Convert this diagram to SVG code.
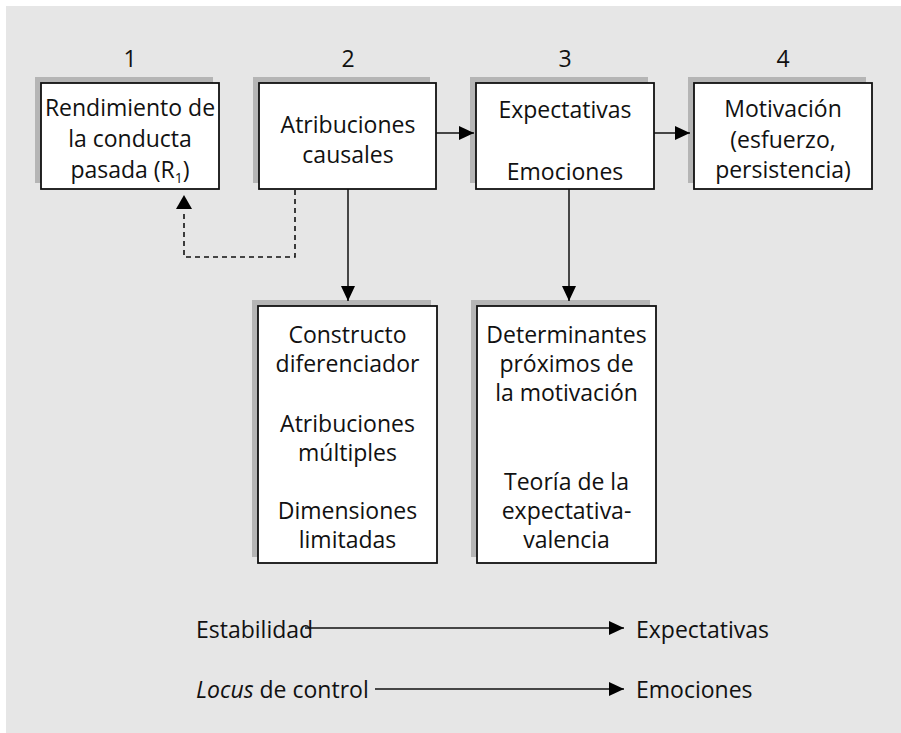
<svg xmlns="http://www.w3.org/2000/svg" width="901" height="733" viewBox="0 0 901 733">
<style>
text{font-family:"Open Sans","Noto Sans",sans-serif;font-size:23px;fill:#111;}
.c{text-anchor:middle;}
.box{fill:#fff;stroke:#111;stroke-width:1.8;}
.sh{fill:#b5b5b5;}
.ln{fill:none;stroke:#111;stroke-width:1.5;}
.dash{fill:none;stroke:#111;stroke-width:1.6;stroke-dasharray:5 4;}
</style>
<defs>
<marker id="ah" markerUnits="userSpaceOnUse" markerWidth="16" markerHeight="16" viewBox="0 0 16 16" refX="15" refY="8" orient="auto">
<path d="M0,1 L15,8 L0,15 Z" fill="#000"/>
</marker>
</defs>
<rect x="6" y="6" width="895" height="727" fill="#e6e6e6"/>
<g id="numbers">
<text class="c" x="130" y="67">1</text>
<text class="c" x="348" y="67">2</text>
<text class="c" x="565" y="67">3</text>
<text class="c" x="783" y="67">4</text>
</g>
<g id="node1">
<rect class="sh" x="35" y="77" width="178" height="106"/>
<rect class="box" x="41" y="83" width="178" height="106"/>
<text class="c" x="130" y="116">Rendimiento de</text>
<text class="c" x="130" y="147">la conducta</text>
<text class="c" x="130" y="178">pasada (R<tspan font-size="14" dy="5">1</tspan><tspan dy="-5">)</tspan></text>
</g>
<g id="node2">
<rect class="sh" x="253" y="77" width="177" height="106"/>
<rect class="box" x="259" y="83" width="177" height="106"/>
<text class="c" x="348" y="133">Atribuciones</text>
<text class="c" x="348" y="163">causales</text>
</g>
<g id="node3">
<rect class="sh" x="470" y="77" width="178" height="106"/>
<rect class="box" x="476" y="83" width="178" height="106"/>
<text class="c" x="565" y="118">Expectativas</text>
<text class="c" x="565" y="180">Emociones</text>
</g>
<g id="node4">
<rect class="sh" x="688" y="77" width="178" height="106"/>
<rect class="box" x="694" y="83" width="178" height="106"/>
<text class="c" x="783" y="117">Motivación</text>
<text class="c" x="783" y="148">(esfuerzo,</text>
<text class="c" x="783" y="178">persistencia)</text>
</g>
<g id="node5">
<rect class="sh" x="252" y="300" width="179" height="257"/>
<rect class="box" x="258" y="306" width="179" height="257"/>
<text class="c" x="347.5" y="343">Constructo</text>
<text class="c" x="347.5" y="372">diferenciador</text>
<text class="c" x="347.5" y="432">Atribuciones</text>
<text class="c" x="347.5" y="461">múltiples</text>
<text class="c" x="347.5" y="519">Dimensiones</text>
<text class="c" x="347.5" y="548">limitadas</text>
</g>
<g id="node6">
<rect class="sh" x="471" y="300" width="179" height="257"/>
<rect class="box" x="477" y="306" width="179" height="257"/>
<text class="c" x="566.5" y="343">Determinantes</text>
<text class="c" x="566.5" y="372">próximos de</text>
<text class="c" x="566.5" y="401">la motivación</text>
<text class="c" x="566.5" y="490">Teoría de la</text>
<text class="c" x="566.5" y="519">expectativa-</text>
<text class="c" x="566.5" y="548">valencia</text>
</g>
<g id="legend">
<text x="196" y="638">Estabilidad</text>
<text x="636" y="638">Expectativas</text>
<text x="196" y="698"><tspan font-style="italic">Locus</tspan> de control</text>
<text x="636" y="698">Emociones</text>
</g>
<g id="connectors">
<line class="ln" x1="436" y1="133" x2="474" y2="133" marker-end="url(#ah)"/>
<line class="ln" x1="654" y1="133" x2="690" y2="133" marker-end="url(#ah)"/>
<line class="ln" x1="348" y1="189" x2="348" y2="301" marker-end="url(#ah)"/>
<line class="ln" x1="569" y1="189" x2="569" y2="301" marker-end="url(#ah)"/>
<path class="dash" d="M295,190 V257 H184 V210"/>
<path d="M176,209 L184,195 L192,209 Z" fill="#000"/>
<line class="ln" x1="305" y1="628" x2="624" y2="628" marker-end="url(#ah)"/>
<line class="ln" x1="375" y1="689" x2="624" y2="689" marker-end="url(#ah)"/>
</g>
</svg>
